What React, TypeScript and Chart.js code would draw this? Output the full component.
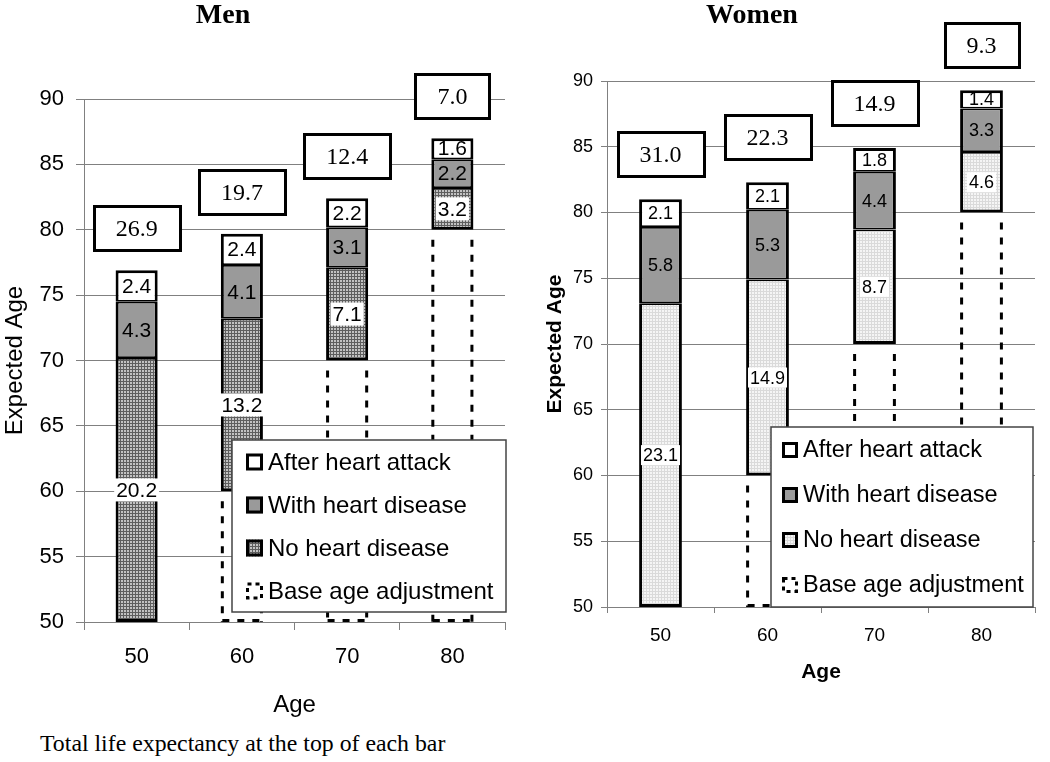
import React, { useEffect, useRef } from 'react';
import { Chart, registerables } from 'chart.js';

Chart.register(...registerables);

// ---------- data ----------
const AGE_LABELS = ['50', '60', '70', '80'];
const Y_MIN = 50;
const Y_MAX = 90;
const Y_STEP = 5;
const LEGEND_NAMES = ['After heart attack', 'With heart disease', 'No heart disease', 'Base age adjustment'];

const MEN_BASE_AGE = [50, 60, 70, 80];
const MEN_NO_DISEASE = [20.2, 13.2, 7.1, 3.2];
const MEN_WITH_DISEASE = [4.3, 4.1, 3.1, 2.2];
const MEN_AFTER_ATTACK = [2.4, 2.4, 2.2, 1.6];
const MEN_TOTAL = [26.9, 19.7, 12.4, 7.0];

const WOMEN_BASE_AGE = [50, 60, 70, 80];
const WOMEN_NO_DISEASE = [23.1, 14.9, 8.7, 4.6];
const WOMEN_WITH_DISEASE = [5.8, 5.3, 4.4, 3.3];
const WOMEN_AFTER_ATTACK = [2.1, 2.1, 1.8, 1.4];
const WOMEN_TOTAL = [31.0, 22.3, 14.9, 9.3];

const CAPTION = 'Total life expectancy at the top of each bar';

// ---------- styles ----------
const SANS = '"Liberation Sans", Arial, sans-serif';
const SERIF = '"Liberation Serif", "Times New Roman", serif';
const GRID = '#808080';
const WITH_GRAY = '#9a9a9a';

type Panel = {
  title: string;
  titleX: number;
  titleY: number;
  left: number;
  width: number;
  height: number;
  padRight: number;
  padTop: number;
  yAxisWidth: number;
  xAxisHeight: number;
  tickLen: number;
  yTickSize: number;
  xTickSize: number;
  yTickPad: number;
  xTickPad: number;
  axisTitleSize: number;
  axisTitleWeight: 'normal' | 'bold';
  yTitlePad: number;
  xTitlePad: number;
  labelSize: number;
  boxGap: number;
  patLine: string;
  patBg: string;
  legend: { dx: number; dy: number; w: number; h: number; symX: number; sym: number; textX: number; y0: number; step: number; font: number };
  base: number[];
  no: number[];
  withD: number[];
  after: number[];
  totals: number[];
};

const MEN: Panel = {
  title: 'Men', titleX: 223, titleY: 16, left: 0, width: 520, height: 720, padRight: 15, padTop: 99,
  yAxisWidth: 84, xAxisHeight: 98, tickLen: 8, yTickSize: 22, xTickSize: 22, yTickPad: 12, xTickPad: 14,
  axisTitleSize: 24, axisTitleWeight: 'normal', yTitlePad: 0.6, xTitlePad: 0.6,
  labelSize: 21, boxGap: 20, patLine: '#5e5e5e', patBg: '#c2c2c2',
  legend: { dx: 1, dy: 10, w: 274, h: 172, symX: 14, sym: 17, textX: 36, y0: 22, step: 43, font: 24 },
  base: MEN_BASE_AGE, no: MEN_NO_DISEASE, withD: MEN_WITH_DISEASE, after: MEN_AFTER_ATTACK, totals: MEN_TOTAL,
};

const WOMEN: Panel = {
  title: 'Women', titleX: 232, titleY: 16, left: 520, width: 530, height: 700, padRight: 15, padTop: 81,
  yAxisWidth: 87, xAxisHeight: 93, tickLen: 6, yTickSize: 18, xTickSize: 19, yTickPad: 8, xTickPad: 11,
  axisTitleSize: 21, axisTitleWeight: 'bold', yTitlePad: 22.4, xTitlePad: 15.4,
  labelSize: 18, boxGap: 23, patLine: '#dadada', patBg: '#f5f5f5',
  legend: { dx: -2, dy: 0, w: 262, h: 180, symX: 11, sym: 16, textX: 32, y0: 23, step: 45, font: 23.5 },
  base: WOMEN_BASE_AGE, no: WOMEN_NO_DISEASE, withD: WOMEN_WITH_DISEASE, after: WOMEN_AFTER_ATTACK, totals: WOMEN_TOTAL,
};

function makePattern(ctx: CanvasRenderingContext2D, line: string, bg: string) {
  const c = document.createElement('canvas');
  c.width = 3;
  c.height = 3;
  const g = c.getContext('2d')!;
  g.fillStyle = bg;
  g.fillRect(0, 0, 3, 3);
  g.fillStyle = line;
  g.fillRect(0, 0, 3, 1);
  g.fillRect(0, 0, 1, 3);
  return ctx.createPattern(c, 'repeat')!;
}

function overlayPlugin(p: Panel, pattern: CanvasPattern) {
  return {
    id: 'overlay',
    afterDatasetsDraw(chart: any) {
      const { ctx, chartArea: a } = chart;
      const ds = chart.data.datasets;

      // panel title
      ctx.save();
      ctx.font = `bold 28px ${SERIF}`;
      ctx.textAlign = 'center';
      ctx.textBaseline = 'middle';
      ctx.fillStyle = '#000';
      ctx.fillText(p.title, p.titleX, p.titleY);
      ctx.restore();

      // dashed "base age adjustment" outlines
      const baseMeta = chart.getDatasetMeta(0);
      ctx.save();
      ctx.strokeStyle = '#000';
      ctx.lineWidth = 3;
      ctx.setLineDash([7, 8]);
      baseMeta.data.forEach((el: any, i: number) => {
        const v = ds[0].data[i] as number;
        if (v <= Y_MIN) return;
        const half = el.width / 2 - 1.5;
        const l = el.x - half;
        const r = el.x + half;
        const top = el.y + 10;
        ctx.beginPath();
        ctx.moveTo(l, top);
        ctx.lineTo(l, a.bottom);
        ctx.moveTo(r, top);
        ctx.lineTo(r, a.bottom);
        ctx.stroke();
        ctx.beginPath();
        ctx.moveTo(l, a.bottom - 1.5);
        ctx.lineTo(r, a.bottom - 1.5);
        ctx.stroke();
      });
      ctx.restore();

      // segment value labels
      ctx.save();
      ctx.font = `${p.labelSize}px ${SANS}`;
      ctx.textAlign = 'center';
      ctx.textBaseline = 'middle';
      for (let d = 1; d <= 3; d++) {
        const meta = chart.getDatasetMeta(d);
        meta.data.forEach((el: any, i: number) => {
          const v = ds[d].data[i] as number;
          const txt = v.toFixed(1);
          const cy = (el.y + el.base) / 2;
          if (d === 1) {
            const w = ctx.measureText(txt).width + 4;
            ctx.fillStyle = '#fff';
            ctx.fillRect(el.x - w / 2, cy - p.labelSize / 2 - 1, w, p.labelSize + 2);
          }
          ctx.fillStyle = '#000';
          ctx.fillText(txt, el.x, cy + 1);
        });
      }
      ctx.restore();

      // total life expectancy boxes
      ctx.save();
      ctx.font = `24px ${SERIF}`;
      ctx.textAlign = 'center';
      ctx.textBaseline = 'middle';
      const topMeta = chart.getDatasetMeta(3);
      topMeta.data.forEach((el: any, i: number) => {
        const txt = p.totals[i].toFixed(1);
        const w = Math.round(ctx.measureText(txt).width + 44);
        const h = 44;
        const bx = Math.round(el.x - w / 2);
        const by = Math.round(el.y - p.boxGap - h);
        ctx.fillStyle = '#fff';
        ctx.fillRect(bx, by, w, h);
        ctx.lineWidth = 3;
        ctx.strokeStyle = '#000';
        ctx.strokeRect(bx + 0.5, by + 0.5, w, h);
        ctx.fillStyle = '#000';
        ctx.fillText(txt, el.x, by + h / 2 + 2);
      });
      ctx.restore();

      // legend
      const L = p.legend;
      const lx = a.right + L.dx - L.w;
      const ly = a.bottom - L.dy - L.h;
      ctx.save();
      ctx.fillStyle = '#fff';
      ctx.fillRect(lx, ly, L.w, L.h);
      ctx.strokeStyle = '#444';
      ctx.lineWidth = 1.5;
      ctx.strokeRect(lx, ly, L.w, L.h);
      ctx.font = `${L.font}px ${SANS}`;
      ctx.textAlign = 'left';
      ctx.textBaseline = 'middle';
      const fills: (string | CanvasPattern | null)[] = ['#fff', WITH_GRAY, pattern, null];
      LEGEND_NAMES.forEach((name, k) => {
        const cy = ly + L.y0 + k * L.step;
        const sx = lx + L.symX;
        const sy = cy - L.sym / 2;
        const f = fills[k];
        if (f) {
          ctx.fillStyle = f as any;
          ctx.fillRect(sx, sy, L.sym, L.sym);
          ctx.setLineDash([]);
          ctx.lineWidth = 3;
          ctx.strokeStyle = '#000';
          ctx.strokeRect(sx + 1.5, sy + 1.5, L.sym - 3, L.sym - 3);
        } else {
          ctx.setLineDash([4, 4]);
          ctx.lineWidth = 3;
          ctx.strokeStyle = '#000';
          ctx.strokeRect(sx + 1.5, sy + 1.5, L.sym - 3, L.sym - 3);
          ctx.setLineDash([]);
        }
        ctx.fillStyle = '#000';
        ctx.fillText(name, lx + L.textX, cy + 1);
      });
      ctx.restore();
    },
  };
}

function buildConfig(p: Panel, ctx: CanvasRenderingContext2D): any {
  const pattern = makePattern(ctx, p.patLine, p.patBg);
  const side = { left: 3, right: 3 };
  return {
    type: 'bar',
    data: {
      labels: AGE_LABELS,
      datasets: [
        {
          label: LEGEND_NAMES[3],
          data: p.base,
          backgroundColor: 'rgba(0,0,0,0)',
          borderWidth: 0,
        },
        {
          label: LEGEND_NAMES[2],
          data: p.no,
          backgroundColor: pattern,
          borderColor: '#000',
          borderWidth: { top: 1.75, bottom: 3, ...side },
          borderSkipped: false,
        },
        {
          label: LEGEND_NAMES[1],
          data: p.withD,
          backgroundColor: WITH_GRAY,
          borderColor: '#000',
          borderWidth: { top: 1.75, bottom: 1.75, ...side },
          borderSkipped: false,
        },
        {
          label: LEGEND_NAMES[0],
          data: p.after,
          backgroundColor: '#fff',
          borderColor: '#000',
          borderWidth: { top: 3, bottom: 1.75, ...side },
          borderSkipped: false,
        },
      ],
    },
    options: {
      responsive: false,
      animation: false,
      events: [],
      layout: { padding: { left: 0, right: p.padRight, top: p.padTop, bottom: 0 } },
      datasets: { bar: { categoryPercentage: 1, barPercentage: 0.4 } },
      plugins: {
        legend: { display: false },
        tooltip: { enabled: false },
        title: { display: false },
      },
      scales: {
        x: {
          stacked: true,
          grid: { display: true, drawOnChartArea: false, drawTicks: true, tickLength: p.tickLen, color: GRID, offset: true },
          border: { display: true, color: GRID, width: 1 },
          ticks: { color: '#000', font: { family: SANS, size: p.xTickSize }, padding: p.xTickPad, maxRotation: 0 },
          title: {
            display: true,
            text: 'Age',
            color: '#000',
            font: { family: SANS, size: p.axisTitleSize, weight: p.axisTitleWeight, lineHeight: 1.2 },
            padding: { top: 0, bottom: p.xTitlePad },
          },
          afterFit: (s: any) => {
            s.height = p.xAxisHeight;
          },
        },
        y: {
          stacked: true,
          min: Y_MIN,
          max: Y_MAX,
          grid: { color: GRID, tickLength: p.tickLen, lineWidth: 1 },
          border: { display: true, color: GRID, width: 1 },
          ticks: { stepSize: Y_STEP, color: '#000', font: { family: SANS, size: p.yTickSize }, padding: p.yTickPad },
          title: {
            display: true,
            text: 'Expected Age',
            color: '#000',
            font: { family: SANS, size: p.axisTitleSize, weight: p.axisTitleWeight, lineHeight: 1.2 },
            padding: { top: p.yTitlePad, bottom: 0 },
          },
          afterFit: (s: any) => {
            s.width = p.yAxisWidth;
          },
        },
      },
    },
    plugins: [overlayPlugin(p, pattern)],
  };
}

function PanelChart({ p }: { p: Panel }) {
  const ref = useRef<HTMLCanvasElement | null>(null);
  useEffect(() => {
    const canvas = ref.current;
    if (!canvas) return;
    const ctx = canvas.getContext('2d')!;
    const chart = new Chart(ctx, buildConfig(p, ctx));
    return () => chart.destroy();
  }, [p]);
  return (
    <canvas
      ref={ref}
      width={p.width}
      height={p.height}
      style={{ position: 'absolute', left: p.left, top: 0, width: p.width, height: p.height }}
    />
  );
}

export default function App() {
  return (
    <div
      style={{
        position: 'fixed',
        left: 0,
        top: 0,
        width: 1050,
        height: 762,
        background: '#fff',
        overflow: 'hidden',
      }}
    >
      <PanelChart p={MEN} />
      <PanelChart p={WOMEN} />
      <div
        style={{
          position: 'absolute',
          left: 40,
          top: 729,
          fontFamily: SERIF,
          fontSize: 23.8,
          lineHeight: '28px',
          color: '#000',
          whiteSpace: 'nowrap',
        }}
      >
        {CAPTION}
      </div>
    </div>
  );
}
